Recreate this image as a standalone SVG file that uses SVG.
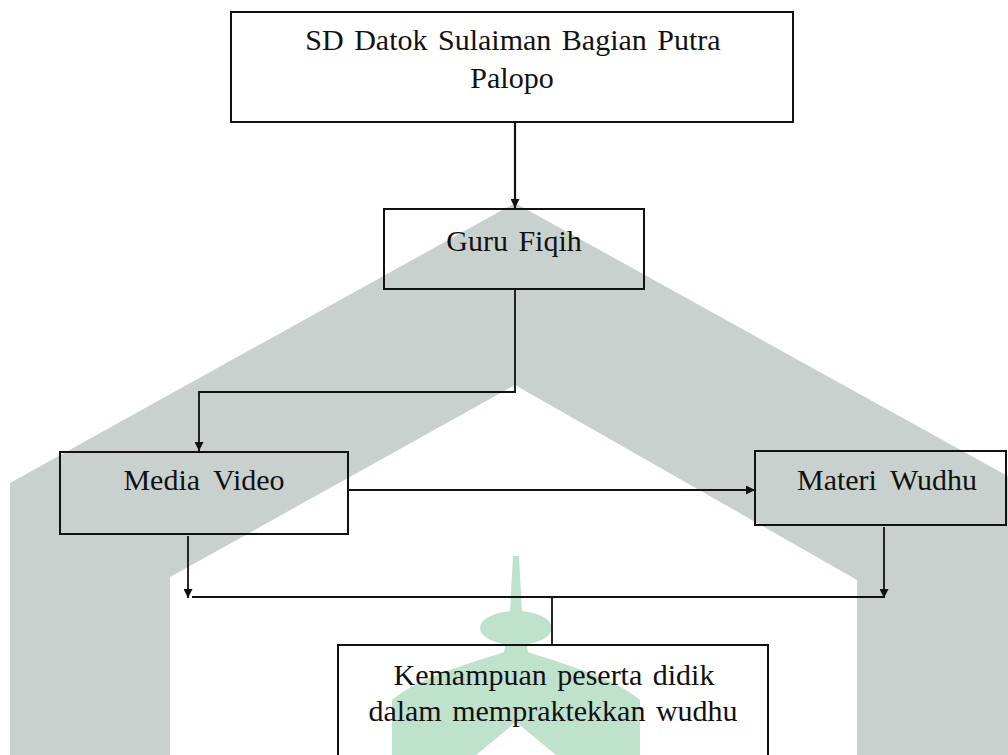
<svg xmlns="http://www.w3.org/2000/svg" width="1008" height="755" viewBox="0 0 1008 755">
  <style>
    .box { fill: none; stroke: #111; stroke-width: 2; }
    .lbl { font-family: "Liberation Serif", "Times New Roman", serif; font-size: 30px; fill: #111; text-anchor: middle; }
    .conn { fill: none; stroke: #111; stroke-width: 1.8; }
  </style>
  <defs>
    <marker id="arrow" viewBox="0 0 10 10" refX="10" refY="5" markerWidth="10" markerHeight="9" markerUnits="userSpaceOnUse" orient="auto">
      <path d="M0,0 L10,5 L0,10 Z" fill="#111"/>
    </marker>
  </defs>
  <rect x="0" y="0" width="1008" height="755" fill="#ffffff"/>
  <g id="watermark">
    <path d="M515,203 L1020,483 L1020,755 L857,755 L857,580 L515,385 L170,577 L170,755 L10,755 L10,483 Z" fill="#c9d1ce"/>
    <path d="M513,556 L519,556 L522,612 L516,612 L510,612 Z" fill="#bfe2cc"/>
    <ellipse cx="516" cy="628" rx="36" ry="17" fill="#bfe2cc"/>
    <path d="M506,642 L526,642 L528,652 C556,662 612,676 640,700 L640,755 L556,755 L516,722 L476,755 L392,755 L392,700 C420,676 476,662 504,652 Z" fill="#bfe2cc"/>
  </g>
  <g id="connectors">
    <line class="conn" x1="515" y1="122" x2="515" y2="208" marker-end="url(#arrow)" style="stroke-width:2.2"/>
    <polyline class="conn" points="515,289 515,392 199,392 199,451" marker-end="url(#arrow)"/>
    <line class="conn" x1="348" y1="490" x2="755" y2="490" marker-end="url(#arrow)"/>
    <line class="conn" x1="188" y1="536" x2="188" y2="598" marker-end="url(#arrow)"/>
    <line class="conn" x1="884" y1="527" x2="884" y2="598" marker-end="url(#arrow)"/>
    <line class="conn" x1="192" y1="597" x2="884" y2="597"/>
    <line class="conn" x1="552" y1="597" x2="552" y2="645"/>
  </g>
  <g id="node-sd">
    <rect class="box" x="231" y="12" width="562" height="110"/>
    <text class="lbl" x="513" y="50" word-spacing="3">SD Datok Sulaiman Bagian Putra</text>
    <text class="lbl" x="512" y="88">Palopo</text>
  </g>
  <g id="node-guru">
    <rect class="box" x="384" y="209" width="260" height="80"/>
    <text class="lbl" x="514" y="251" word-spacing="3">Guru Fiqih</text>
  </g>
  <g id="node-media">
    <rect class="box" x="60" y="452" width="288" height="82"/>
    <text class="lbl" x="204" y="490" word-spacing="6">Media Video</text>
  </g>
  <g id="node-materi">
    <rect class="box" x="755" y="451" width="251" height="74"/>
    <text class="lbl" x="887" y="490" word-spacing="6">Materi Wudhu</text>
  </g>
  <g id="node-kemampuan">
    <rect class="box" x="338" y="645" width="430" height="120"/>
    <text class="lbl" x="554" y="685" word-spacing="3">Kemampuan peserta didik</text>
    <text class="lbl" x="553" y="721" word-spacing="3">dalam mempraktekkan wudhu</text>
  </g>
</svg>
